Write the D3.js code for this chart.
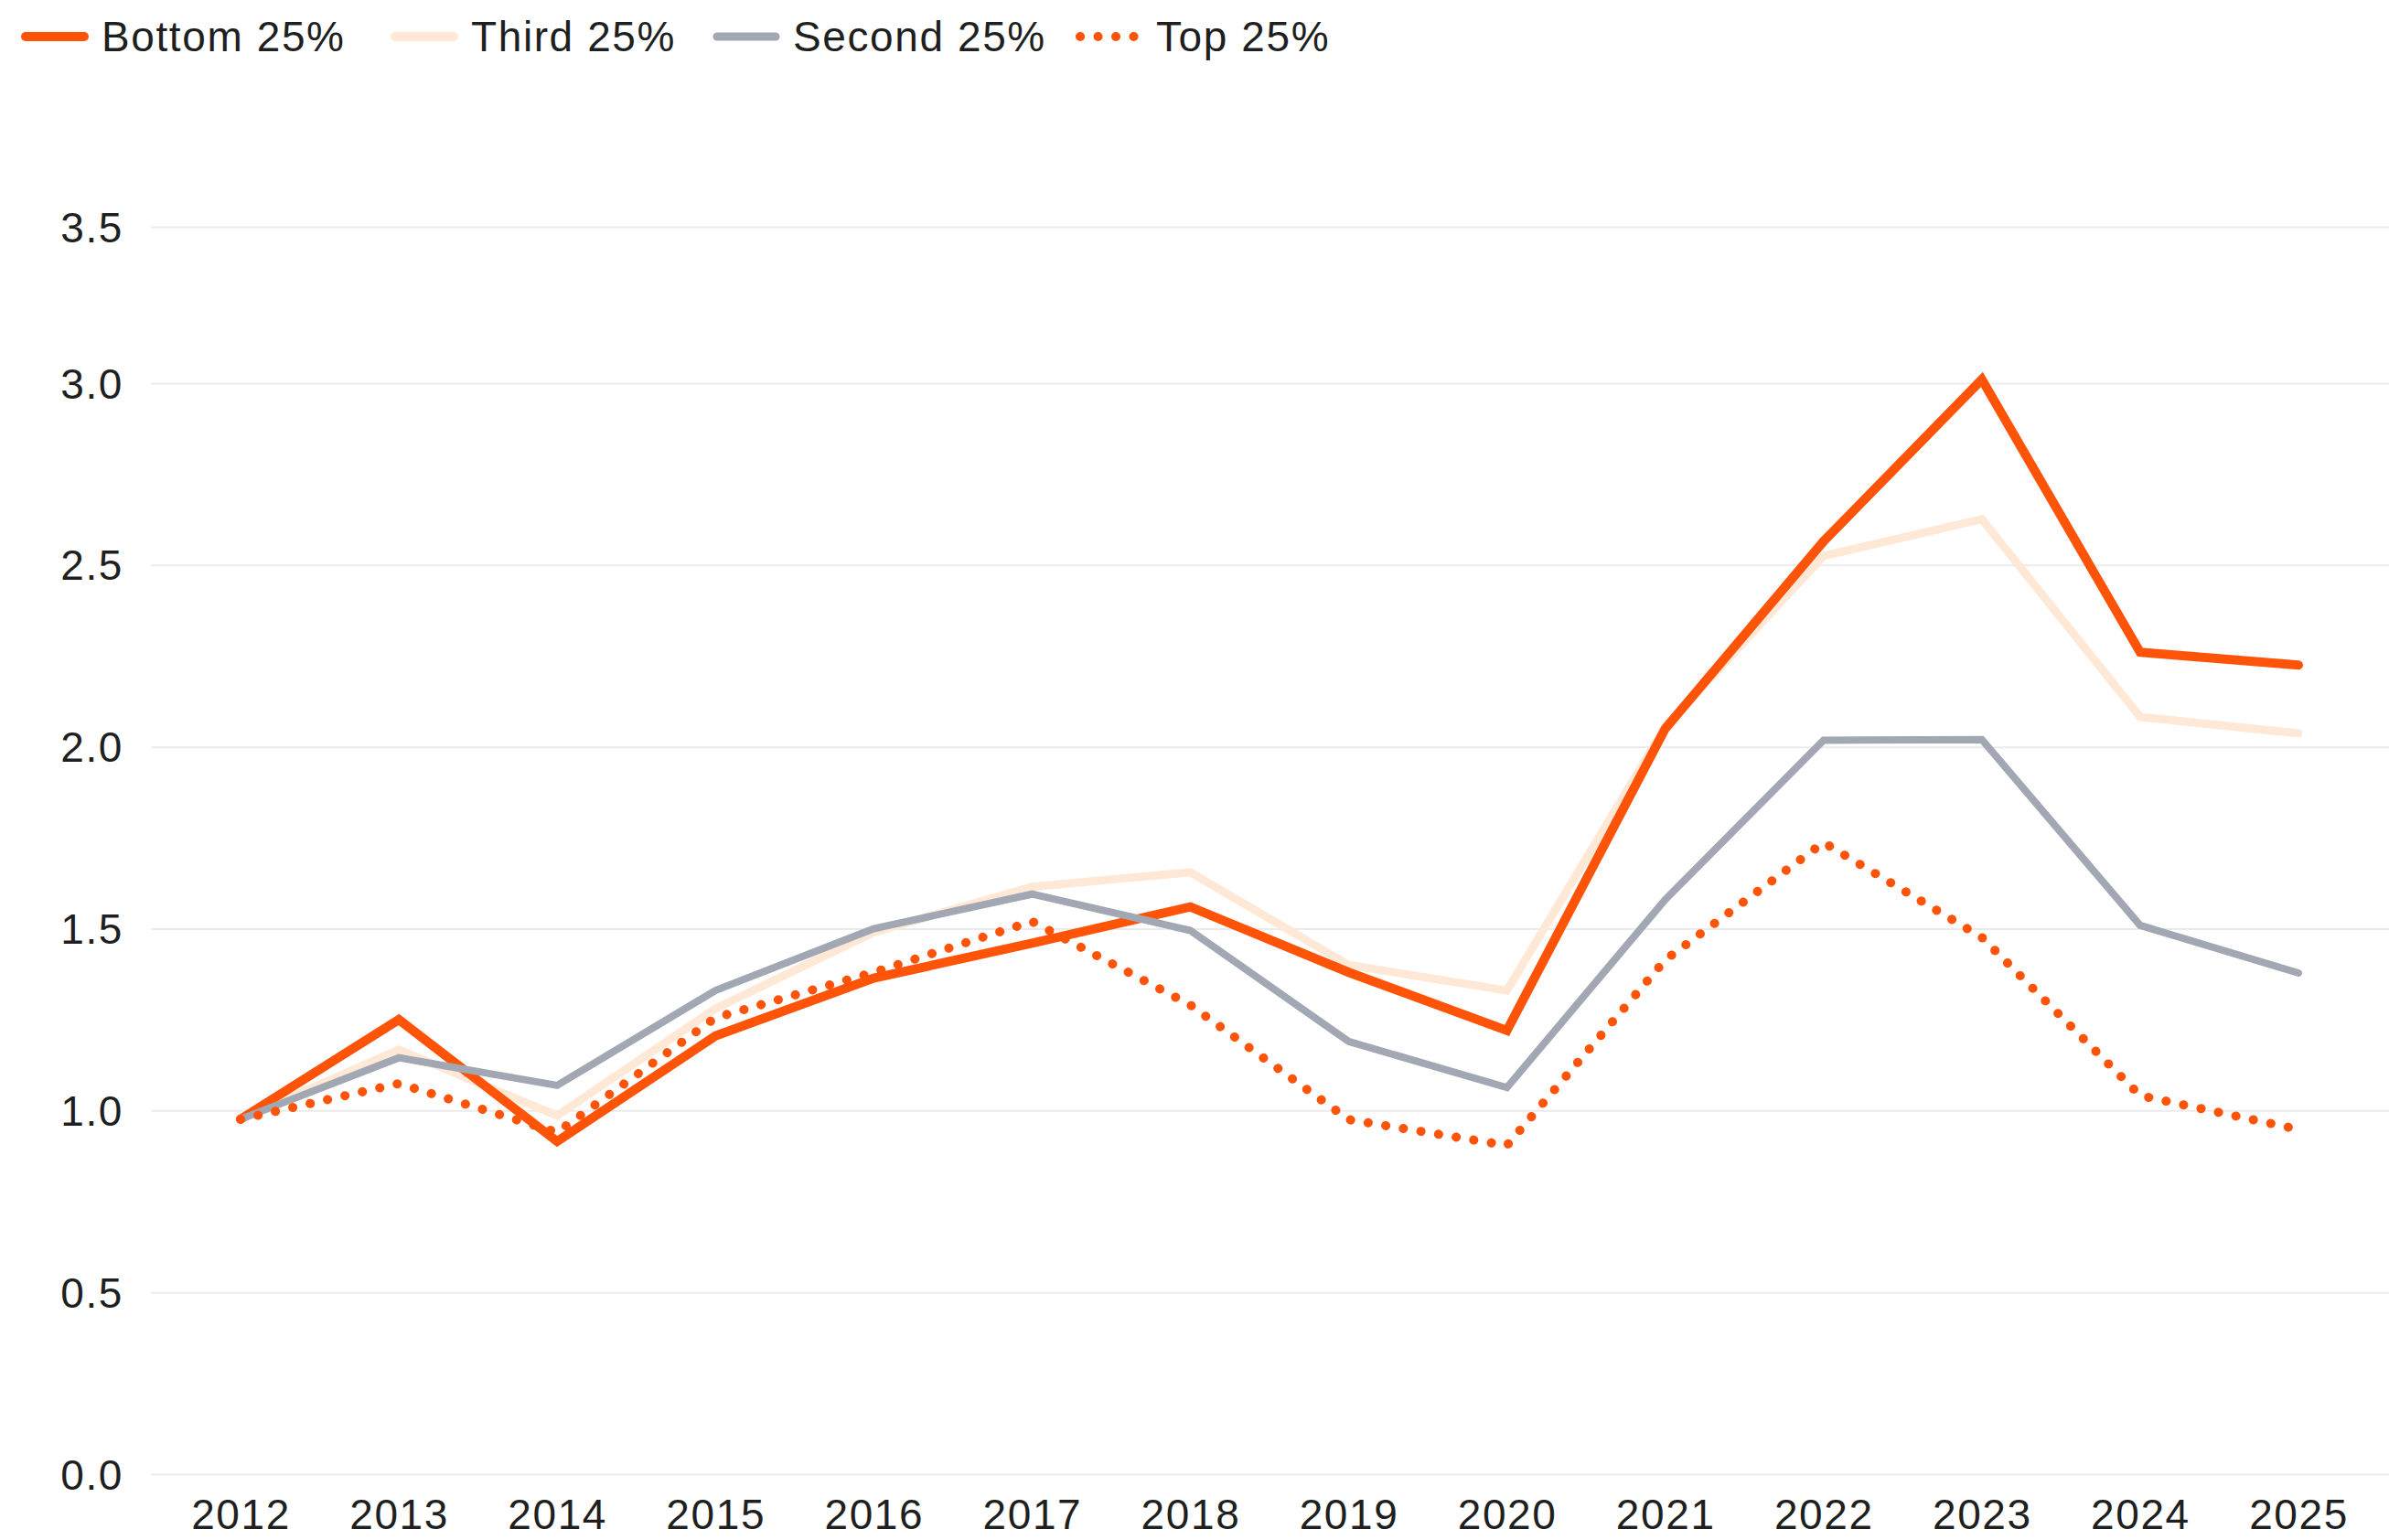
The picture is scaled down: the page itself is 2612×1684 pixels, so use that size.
<!DOCTYPE html>
<html>
<head>
<meta charset="utf-8">
<script src="https://cdn.jsdelivr.net/npm/d3@7"></script>
<style>
  body { margin: 0; background: #fff; }
  text { font-family: "Liberation Sans", Arial, Helvetica, sans-serif; fill: #1f1f1f; letter-spacing: 1.6px; }
</style>
</head>
<body>
<div id="chart"></div>
<script>
var width = 2612, height = 1684

// Data
var years = [2012, 2013, 2014, 2015, 2016, 2017, 2018, 2019, 2020, 2021, 2022, 2023, 2024, 2025]
var bottom25 = [0.976, 1.25, 0.915, 1.205, 1.364, 1.46, 1.56, 1.38, 1.22, 2.05, 2.565, 3.01, 2.26, 2.225]
var third25 = [0.976, 1.167, 0.986, 1.28, 1.49, 1.615, 1.655, 1.40, 1.33, 2.055, 2.525, 2.626, 2.082, 2.037]
var second25 = [0.976, 1.145, 1.069, 1.33, 1.50, 1.595, 1.495, 1.19, 1.063, 1.58, 2.018, 2.02, 1.509, 1.378]
var top25 = [0.976, 1.074, 0.94, 1.255, 1.38, 1.52, 1.29, 0.975, 0.904, 1.414, 1.737, 1.476, 1.041, 0.948]
var yTickValues = [0, 0.5, 1.0, 1.5, 2.0, 2.5, 3.0, 3.43]
var yTickLabels = ["0.0", "0.5", "1.0", "1.5", "2.0", "2.5", "3.0", "3.5"]

var series = [
  {name: "Bottom 25%", values: bottom25, color: "#ff5308", width: 10, dots: false},
  {name: "Third 25%", values: third25, color: "#ffe8d6", width: 9, dots: false},
  {name: "Second 25%", values: second25, color: "#a2a8b3", width: 8, dots: false},
  {name: "Top 25%", values: top25, color: "#ff5308", width: 10, dots: true}
]
// draw order (bottom-most first)
var drawOrder = [1, 0, 2, 3]

var svg = d3.select("#chart")
    .append("svg")
    .attr("width", width)
    .attr("height", height)

var x = d3.scalePoint()
    .domain(years)
    .range([263, 2513])

var y = d3.scaleLinear()
    .domain([0, 3])
    .range([1612, 419])

// gridlines + y labels
var yAxis = d3.axisLeft(y)
    .tickValues(yTickValues)
    .tickSize(-(width - 165))
    .tickFormat(function(d, i) { return yTickLabels[i] })

var gy = svg.append("g")
    .attr("transform", "translate(165,0)")
    .call(yAxis)
gy.select(".domain").remove()
gy.selectAll(".tick line")
    .attr("stroke", "#ebebeb")
    .attr("stroke-width", 2)
gy.selectAll(".tick text")
    .attr("x", -30)
    .attr("dy", "0.35em")
    .style("font-size", "46px")
    .attr("fill", "#1f1f1f")

// x labels
var xAxis = d3.axisBottom(x).tickSize(0).tickFormat(d3.format("d"))
var gx = svg.append("g")
    .attr("transform", "translate(0,1612)")
    .call(xAxis)
gx.select(".domain").remove()
gx.selectAll(".tick text")
    .attr("y", 60)
    .attr("dy", 0)
    .style("font-size", "46px")
    .attr("fill", "#1f1f1f")

// lines
var line = d3.line()
    .x(function(d, i) { return x(years[i]) })
    .y(function(d) { return y(d) })

drawOrder.forEach(function(k) {
  var s = series[k]
  var p = svg.append("path")
      .datum(s.values)
      .attr("d", line)
      .attr("fill", "none")
      .attr("stroke", s.color)
      .attr("stroke-width", s.width)
      .attr("stroke-linejoin", "miter")
      .attr("stroke-linecap", "round")
  if (s.dots) {
    p.attr("stroke-dasharray", "0.1 19.4")
  }
})

// Legend
var legendX = [24, 428, 780, 1177]
var legend = svg.append("g").attr("class", "legend")
series.forEach(function(s, i) {
  var g = legend.append("g").attr("transform", "translate(" + legendX[i] + ",40)")
  var l = g.append("line")
      .attr("x1", 4).attr("x2", 68)
      .attr("y1", 0).attr("y2", 0)
      .attr("stroke", s.color)
      .attr("stroke-width", s.dots ? 10 : (i == 2 ? 9 : 10))
      .attr("stroke-linecap", "round")
  if (s.dots) l.attr("stroke-dasharray", "0.1 19.4")
  g.append("text")
      .attr("x", 87)
      .attr("y", 16)
      .style("font-size", "46px")
      .text(s.name)
})
</script>
</body>
</html>
